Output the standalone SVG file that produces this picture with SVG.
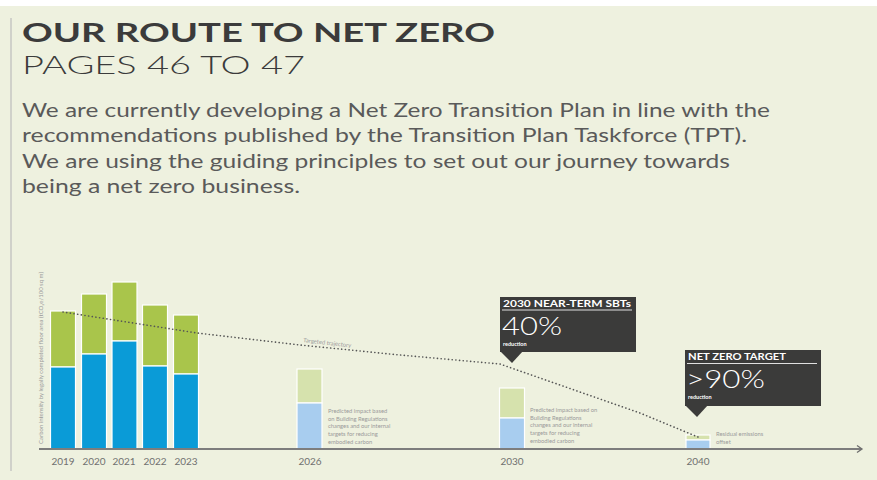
<svg xmlns="http://www.w3.org/2000/svg" width="877" height="480" viewBox="0 0 877 480">
<defs>
<style>
.bg{fill:#eef1df}
.h1{font-family:"Lato","Open Sans","DejaVu Sans",sans-serif;font-weight:700;font-size:26px;fill:#3b3b3b}
.h2{font-family:"Lato","Open Sans","DejaVu Sans",sans-serif;font-weight:300;font-size:26px;fill:#3b3b3b}
.p{font-family:"Lato","Open Sans","DejaVu Sans",sans-serif;font-weight:400;font-size:19.5px;fill:#5a5a5a}
.yr{font-family:"Lato","Open Sans","DejaVu Sans",sans-serif;font-size:10px;fill:#707070;text-anchor:middle}
.sm{font-family:"Lato","Open Sans","DejaVu Sans",sans-serif;font-size:5.8px;fill:#9a9a9a}
.g{fill:#a9c54b;stroke:#ffffff;stroke-width:1.2}
.b{fill:#0a9bd7;stroke:#ffffff;stroke-width:1.2}
.pg{fill:#d6e2ad;stroke:#ffffff;stroke-width:1.2}
.pb{fill:#a8cdef;stroke:#ffffff;stroke-width:1.2}
.box{fill:#3b3b3a}
.ct{font-family:"Lato","Open Sans","DejaVu Sans",sans-serif;font-weight:700;font-size:9.5px;fill:#ffffff}
.cb{font-family:"Lato","Open Sans","DejaVu Sans",sans-serif;font-weight:300;font-size:25px;fill:#ffffff}
.cr{font-family:"Lato","Open Sans","DejaVu Sans",sans-serif;font-weight:700;font-size:5.5px;fill:#ffffff}
</style>
</defs>
<rect x="0" y="0" width="877" height="480" fill="#ffffff"/>
<rect class="bg" x="0" y="6" width="877" height="474"/>
<line x1="11" y1="18" x2="11" y2="471" stroke="#bdbdbd" stroke-width="1.2"/>

<g id="header">
<text class="h1" x="22" y="42" textLength="473" lengthAdjust="spacingAndGlyphs">OUR ROUTE TO NET ZERO</text>
<text class="h2" x="22" y="74" textLength="283" lengthAdjust="spacingAndGlyphs">PAGES 46 TO 47</text>
<text class="p" x="22" y="117" textLength="748" lengthAdjust="spacingAndGlyphs">We are currently developing a Net Zero Transition Plan in line with the</text>
<text class="p" x="22" y="142" textLength="725" lengthAdjust="spacingAndGlyphs">recommendations published by the Transition Plan Taskforce (TPT).</text>
<text class="p" x="22" y="168" textLength="708" lengthAdjust="spacingAndGlyphs">We are using the guiding principles to set out our journey towards</text>
<text class="p" x="22" y="193" textLength="278" lengthAdjust="spacingAndGlyphs">being a net zero business.</text>
</g>

<g id="y-axis-label">
<text class="sm" transform="translate(43,444) rotate(-90)" textLength="172" lengthAdjust="spacingAndGlyphs">Carbon intensity by legally completed floor area (tCO₂e/100 sq m)</text>
</g>

<g id="bars-historic">
<g id="bar-2019"><rect class="g" x="50.5" y="311" width="25" height="56"/><rect class="b" x="50.5" y="367" width="25" height="82"/><text class="yr" x="63" y="465">2019</text></g>
<g id="bar-2020"><rect class="g" x="81.5" y="294" width="25" height="60"/><rect class="b" x="81.5" y="354" width="25" height="95"/><text class="yr" x="94" y="465">2020</text></g>
<g id="bar-2021"><rect class="g" x="112" y="282" width="25" height="59"/><rect class="b" x="112" y="341" width="25" height="108"/><text class="yr" x="124" y="465">2021</text></g>
<g id="bar-2022"><rect class="g" x="142.5" y="305" width="25" height="61"/><rect class="b" x="142.5" y="366" width="25" height="83"/><text class="yr" x="155" y="465">2022</text></g>
<g id="bar-2023"><rect class="g" x="173.5" y="315" width="25" height="59"/><rect class="b" x="173.5" y="374" width="25" height="75"/><text class="yr" x="186" y="465">2023</text></g>
</g>

<g id="bar-2026">
<rect class="pg" x="297" y="369" width="25" height="34"/><rect class="pb" x="297" y="403" width="25" height="46"/>
<text class="sm" x="328" y="413">Predicted impact based</text>
<text class="sm" x="328" y="420.7">on Building Regulations</text>
<text class="sm" x="328" y="428.4">changes and our internal</text>
<text class="sm" x="328" y="436.1">targets for reducing</text>
<text class="sm" x="328" y="443.8">embodied carbon</text>
<text class="yr" x="310" y="465">2026</text>
</g>

<g id="bar-2030">
<rect class="pg" x="499.5" y="388" width="25" height="30"/><rect class="pb" x="499.5" y="418" width="25" height="31"/>
<text class="sm" x="530" y="412">Predicted impact based on</text>
<text class="sm" x="530" y="419.7">Building Regulations</text>
<text class="sm" x="530" y="427.4">changes and our internal</text>
<text class="sm" x="530" y="435.1">targets for reducing</text>
<text class="sm" x="530" y="442.8">embodied carbon</text>
<text class="yr" x="512" y="465">2030</text>
</g>

<g id="bar-2040">
<rect class="pg" x="686" y="435" width="24" height="5"/><rect class="pb" x="686" y="440" width="24" height="9"/>
<text class="sm" x="716" y="436">Residual emissions</text>
<text class="sm" x="716" y="443.5">offset</text>
<text class="yr" x="698" y="465">2040</text>
</g>

<g id="connectors">
<line x1="39" y1="449" x2="861" y2="449" stroke="#7d7d7d" stroke-width="2"/>
<path d="M857,445.5 L862,449 L857,452.5" fill="none" stroke="#6d6d6d" stroke-width="1.3"/>
<polyline points="63,312 197,333 300,345 400,355 500,364 640,413 698,437" fill="none" stroke="#555555" stroke-width="1.6" stroke-dasharray="0.1 3.6" stroke-linecap="round"/>
<text class="sm" transform="translate(303,342) rotate(6.5)" font-size="5.3" fill="#a0a0a0">Targeted trajectory</text>
</g>

<g id="callout-2030">
<rect class="box" x="500" y="297" width="136" height="55"/>
<path class="box" d="M500,351 L523,351 L512,363 Z"/>
<text class="ct" x="503" y="306.5" textLength="128" lengthAdjust="spacingAndGlyphs">2030 NEAR-TERM SBTs</text>
<line x1="502" y1="310" x2="632" y2="310" stroke="#e0e0e0" stroke-width="1"/>
<text class="cb" x="502" y="334.5" textLength="60" lengthAdjust="spacingAndGlyphs">40%</text>
<text class="cr" x="503" y="345.5">reduction</text>
</g>

<g id="callout-2040">
<rect class="box" x="685" y="350" width="136" height="56"/>
<path class="box" d="M685,405 L708,405 L697,417 Z"/>
<text class="ct" x="688" y="360" textLength="98" lengthAdjust="spacingAndGlyphs">NET ZERO TARGET</text>
<line x1="687" y1="363.5" x2="817" y2="363.5" stroke="#e0e0e0" stroke-width="1"/>
<text class="cb" x="686" y="387.5" textLength="79" lengthAdjust="spacingAndGlyphs">&gt;90%</text>
<text class="cr" x="688" y="398.5">reduction</text>
</g>
</svg>
